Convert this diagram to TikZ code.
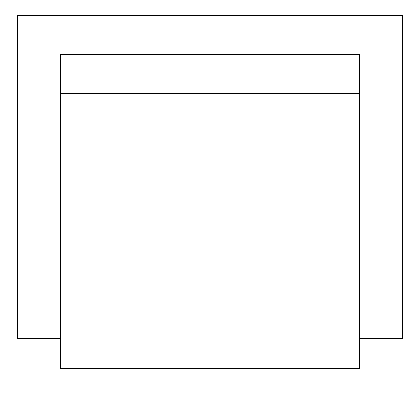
\documentclass[tikz,border=0pt]{standalone}
\usepackage{tikz}
\usetikzlibrary{positioning,calc}

\begin{document}
\begin{tikzpicture}[x=0.02cm,y=-0.02cm]
    % Canvas
    \useasboundingbox (0,0) rectangle (419,400);

    % Outer frame
    \draw (17,15) rectangle (402,338);

    % Inner panel with header strip
    \draw[fill=white] (60,54) coordinate (paneltop) rectangle (359,368) coordinate (panelbottom);
    \draw (60,93) coordinate (headleft) -- (359,93) coordinate (headright);
\end{tikzpicture}
\end{document}
